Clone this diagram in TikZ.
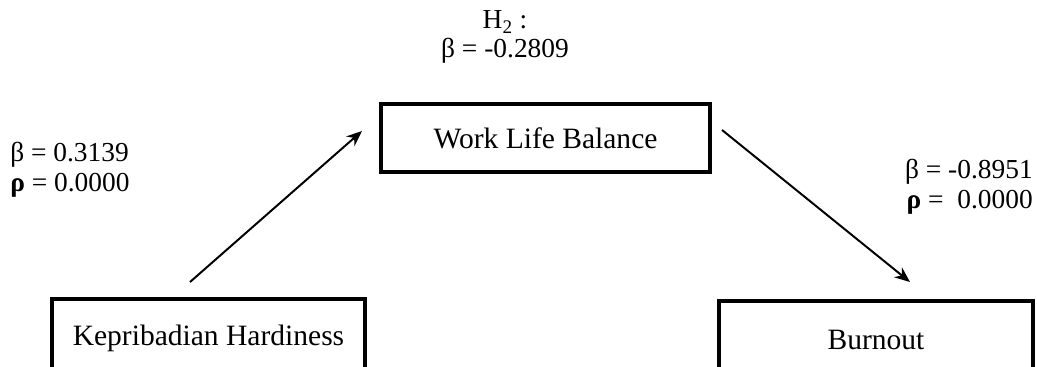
\documentclass[tikz,border=0pt]{standalone}
\usepackage{fontspec}
\setmainfont{Liberation Serif}
\usetikzlibrary{arrows.meta,calc}
\tikzset{
  varbox/.style={draw,line width=2.8pt,inner sep=0pt,font=\fontsize{21}{24}\selectfont},
  coef/.style={inner sep=0pt,font=\fontsize{19.5}{22}\selectfont},
  path/.style={line width=1.4pt,-{Stealth[length=11pt,width=9pt]}}
}
\begin{document}
\begin{tikzpicture}[x=0.025cm,y=-0.025cm]
            \clip (0,0) rectangle (1037,367);
            \node[varbox,minimum width=8.225cm,minimum height=1.7cm] (wlb) at (545.5,138) {Work Life Balance};
            \node[varbox,minimum width=7.825cm,minimum height=1.95cm] (kh) at (208.5,338) {Kepribadian Hardiness};
            \node[varbox,minimum width=7.85cm,minimum height=1.95cm] (bo) at (876,340) {Burnout};
            \draw[path] ($(kh.north)+(-18.5,-15)$) -- ($(wlb.west)+(-17,-7)$);
            \draw[path] ($(wlb.east)+(10,-8)$) -- ($(bo.north)+(34,-17)$);
            \node[coef,anchor=base] (h2) at (505,29) {H\textsubscript{2} :};
            \node[coef,anchor=base] (b2) at (505,58) {β = -0.2809};
            \node[coef,anchor=base west] (b1) at (10,162) {β = 0.3139};
            \node[coef,anchor=base west] (p1) at (10,191) {\textbf{ρ} = 0.0000};
            \node[coef,anchor=base east] (b3) at (1033,179) {β = -0.8951};
            \node[coef,anchor=base east] (p3) at (1033,208) {\textbf{ρ} =\ \ 0.0000};
        \end{tikzpicture}
\end{document}
